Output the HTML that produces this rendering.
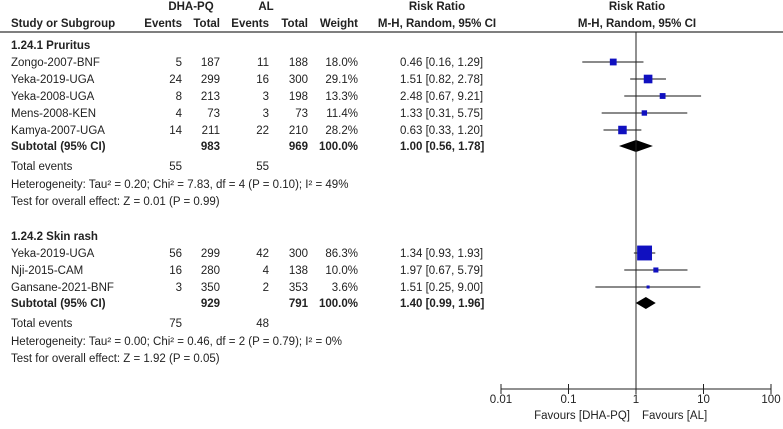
<!DOCTYPE html>
<html><head><meta charset="utf-8"><style>
body{margin:0;background:#fff;}
svg text{font-family:"Liberation Sans",Arial,sans-serif;font-size:11.5px;fill:#222;}
.b{font-weight:bold;}
</style></head><body>
<svg id="c" width="783" height="424" xmlns="http://www.w3.org/2000/svg">
<g id="hdr">
<text x="191" y="10" text-anchor="middle" class="b">DHA-PQ</text>
<text x="266" y="10" text-anchor="middle" class="b">AL</text>
<text x="437" y="10" text-anchor="middle" class="b">Risk Ratio</text>
<text x="637" y="10" text-anchor="middle" class="b">Risk Ratio</text>
<text x="11" y="27" class="b">Study or Subgroup</text>
<text x="182" y="27" text-anchor="end" class="b">Events</text>
<text x="220" y="27" text-anchor="end" class="b">Total</text>
<text x="269" y="27" text-anchor="end" class="b">Events</text>
<text x="308" y="27" text-anchor="end" class="b">Total</text>
<text x="358" y="27" text-anchor="end" class="b">Weight</text>
<text x="437" y="27" text-anchor="middle" class="b">M-H, Random, 95% CI</text>
<text x="637" y="27" text-anchor="middle" class="b">M-H, Random, 95% CI</text>
<line x1="0" y1="32" x2="783" y2="32" stroke="#333" stroke-width="1.2"/>
</g>
</svg>
<script>
const studies=["Zongo-2007-BNF","Yeka-2019-UGA","Yeka-2008-UGA","Mens-2008-KEN","Kamya-2007-UGA","Yeka-2019-UGA","Nji-2015-CAM","Gansane-2021-BNF"];
const groupIdx=[0,0,0,0,0,1,1,1];
const ev1=[5,24,8,4,14,56,16,3];
const tot1=[187,299,213,73,211,299,280,350];
const ev2=[11,16,3,3,22,42,4,2];
const tot2=[188,300,198,73,210,300,138,353];
const weights=[18.0,29.1,13.3,11.4,28.2,86.3,10.0,3.6];
const rr=[0.46,1.51,2.48,1.33,0.63,1.34,1.97,1.51];
const lo=[0.16,0.82,0.67,0.31,0.33,0.93,0.67,0.25];
const hi=[1.29,2.78,9.21,5.75,1.20,1.93,5.79,9.00];
const groupNames=["1.24.1 Pruritus","1.24.2 Skin rash"];
const subRR=[1.00,1.40];
const subLo=[0.56,0.99];
const subHi=[1.78,1.96];
const subTot1=[983,929];
const subTot2=[969,791];
const totEv1=[55,75];
const totEv2=[55,48];
const hetText=["Heterogeneity: Tau\u00b2 = 0.20; Chi\u00b2 = 7.83, df = 4 (P = 0.10); I\u00b2 = 49%","Heterogeneity: Tau\u00b2 = 0.00; Chi\u00b2 = 0.46, df = 2 (P = 0.79); I\u00b2 = 0%"];
const testText=["Test for overall effect: Z = 0.01 (P = 0.99)","Test for overall effect: Z = 1.92 (P = 0.05)"];
const ticks=[0.01,0.1,1,10,100];
const tickLabels=["0.01","0.1","1","10","100"];

const svg=document.getElementById('c');
const NS="http://www.w3.org/2000/svg";
const X=v=>636+67.5*Math.log10(v);
function el(t,a,p){const e=document.createElementNS(NS,t);for(const k in a)e.setAttribute(k,a[k]);(p||svg).appendChild(e);return e;}
function txt(x,y,s,anchor,cls){const e=el('text',{x:x,y:y,'text-anchor':anchor||'start'});if(cls)e.setAttribute('class',cls);e.textContent=s;return e;}
const f2=v=>v.toFixed(2);
const groupStart=[49,240];
const rowH=17;

for(let g=0;g<2;g++){
  let y=groupStart[g];
  const gt=txt(11,y,groupNames[g],'start','b');
  
  
  let r=0;
  for(let i=0;i<studies.length;i++){
    if(groupIdx[i]!==g)continue;
    r++;
    const yy=y+r*rowH;
    const row=el('g',{});
    
    
    const add=(x,s,a)=>{const t=txt(x,yy,s,a);row.appendChild(t);};
    add(11,studies[i]);add(182,String(ev1[i]),'end');add(220,String(tot1[i]),'end');
    add(269,String(ev2[i]),'end');add(308,String(tot2[i]),'end');add(358,weights[i].toFixed(1)+'%','end');
    add(400,f2(rr[i])+' ['+f2(lo[i])+', '+f2(hi[i])+']');
    const cy=yy-4;
    const ci=el('line',{x1:X(lo[i]),x2:X(hi[i]),y1:cy,y2:cy,stroke:'#444','stroke-width':1.2});
    
    
    const s=1.6*Math.sqrt(weights[i]);
    const sq=el('rect',{x:X(rr[i])-s/2,y:cy-s/2,width:s,height:s,fill:'#1010c0'});
    
    
  }
  const sy=y+(r+1)*rowH-1;
  const sg=el('g',{});
  
  
  [[11,'Subtotal (95% CI)','start'],[220,String(subTot1[g]),'end'],[308,String(subTot2[g]),'end'],[358,'100.0%','end'],[400,f2(subRR[g])+' ['+f2(subLo[g])+', '+f2(subHi[g])+']','start']].forEach(a=>sg.appendChild(txt(a[0],sy,a[1],a[2],'b')));
  const dy=sy-4;
  const d=el('polygon',{points:`${X(subLo[g])},${dy} ${X(subRR[g])},${dy-6} ${X(subHi[g])},${dy} ${X(subRR[g])},${dy+6}`,fill:'#000'});
  
  
  const ty=sy+20;
  txt(11,ty,'Total events');txt(182,ty,String(totEv1[g]),'end');txt(269,ty,String(totEv2[g]),'end');
  txt(11,ty+18,hetText[g]);
  txt(11,ty+35,testText[g]);
}
// axis
const vl=el('line',{x1:X(1),x2:X(1),y1:32,y2:389,stroke:'#222','stroke-width':1});


const ax=el('line',{x1:X(ticks[0]),x2:X(ticks[ticks.length-1]),y1:389,y2:389,stroke:'#222','stroke-width':1});


ticks.forEach((t,i)=>{
  el('line',{x1:X(t),x2:X(t),y1:384,y2:394,stroke:'#222','stroke-width':1});
  const tl=txt(X(t),403,tickLabels[i],'middle');
  
  
});
const fl=txt(630,419,'Favours [DHA-PQ]','end');


const fr=txt(642,419,'Favours [AL]','start');


</script>
</body></html>
